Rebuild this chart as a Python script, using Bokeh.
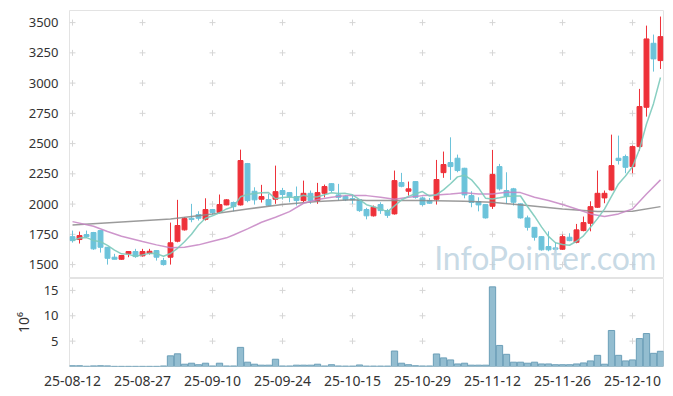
import itertools
import pandas as pd
from bokeh.plotting import figure
from bokeh.layouts import column
from bokeh.models import ColumnDataSource, Range1d, FixedTicker, Label
from bokeh.embed import file_html
from bokeh.resources import INLINE

# ---- data ----
tick_pos = [0, 10, 20, 30, 40, 50, 60, 70, 80]
tick_labels = ["25-08-12", "25-08-27", "25-09-10", "25-09-24", "25-10-15",
               "25-10-29", "25-11-12", "25-11-26", "25-12-10"]
price_ticks = [1500, 1750, 2000, 2250, 2500, 2750, 3000, 3250, 3500]
vol_ticks = [5, 10, 15]

opens = [1731, 1707, 1748, 1765, 1781, 1643, 1561, 1544, 1589, 1608,
         1572, 1593, 1616, 1533, 1561, 1693, 1787, 1883, 1913, 1874,
         1955, 1932, 1993, 2013, 1993, 2335, 2106, 2040, 2037, 2040,
         2112, 2095, 2062, 2029, 2089, 2029, 2089, 2169, 2076, 2062,
         2045, 2035, 1955, 1903, 1996, 1946, 1919, 2178, 2106, 2186,
         2051, 2029, 2040, 2260, 2343, 2379, 2296, 2070, 2021, 1996,
         1982, 2310, 2112, 2126, 2002, 1886, 1808, 1731, 1649, 1638,
         1627, 1726, 1684, 1781, 1841, 1974, 2051, 2117, 2379, 2393,
         2310, 2475, 2800, 3329, 3186]
highs = [1781, 1773, 1781, 1770, 1785, 1645, 1589, 1578, 1610, 1630,
         1630, 1630, 1620, 1556, 1847, 2035, 1891, 2002, 1941, 2048,
         1960, 2079, 2040, 2021, 2450, 2340, 2139, 2159, 2084, 2318,
         2134, 2100, 2145, 2194, 2112, 2175, 2161, 2172, 2167, 2070,
         2079, 2040, 1969, 1988, 2015, 1960, 2277, 2258, 2186, 2190,
         2062, 2051, 2365, 2434, 2552, 2409, 2300, 2106, 2056, 2000,
         2448, 2332, 2263, 2134, 2005, 1905, 1810, 1735, 1775, 1684,
         1748, 1759, 1836, 1897, 2023, 2277, 2112, 2574, 2566, 2409,
         2484, 2952, 3475, 3401, 3550]
lows = [1682, 1674, 1721, 1622, 1599, 1500, 1544, 1540, 1561, 1556,
        1566, 1583, 1533, 1492, 1500, 1684, 1781, 1850, 1864, 1864,
        1913, 1924, 1990, 1940, 1988, 2015, 1996, 2013, 1985, 2002,
        2037, 2015, 1988, 2015, 2002, 2002, 2056, 2098, 2029, 2025,
        2002, 1936, 1874, 1897, 1919, 1886, 1913, 2139, 2070, 2045,
        1985, 2002, 1996, 2217, 2200, 2263, 2048, 1974, 1940, 1880,
        1960, 2112, 2002, 1988, 1880, 1781, 1698, 1615, 1610, 1616,
        1622, 1693, 1676, 1775, 1775, 1969, 2007, 2112, 2327, 2255,
        2255, 2440, 2723, 3095, 3117]
closes = [1698, 1740, 1731, 1630, 1643, 1552, 1544, 1575, 1608, 1566,
          1608, 1610, 1561, 1500, 1680, 1823, 1880, 1872, 1883, 1955,
          1930, 1996, 2035, 1979, 2360, 2029, 2035, 2062, 1990, 2103,
          2079, 2062, 2029, 2089, 2029, 2095, 2145, 2112, 2056, 2035,
          2035, 1946, 1903, 1974, 1946, 1907, 2194, 2147, 2126, 2056,
          1996, 2007, 2203, 2327, 2310, 2277, 2076, 2013, 1993, 1886,
          2244, 2126, 2064, 2015, 1886, 1808, 1726, 1622, 1622, 1627,
          1731, 1698, 1787, 1847, 1979, 2089, 2089, 2318, 2360, 2304,
          2475, 2806, 3365, 3200, 3384]
volumes = [0.15, 0.15, 0.05, 0.12, 0.15, 0.12, 0.03, 0.03, 0.03, 0.03,
           0.03, 0.03, 0.03, 0.1, 2.1, 2.5, 0.45, 0.65, 0.35, 0.65,
           0.1, 0.65, 0.1, 0.1, 3.77, 0.85, 0.45, 0.26, 0.26, 1.43,
           0.1, 0.1, 0.26, 0.26, 0.26, 0.45, 0.1, 0.35, 0.1, 0.08,
           0.08, 0.3, 0.08, 0.08, 0.08, 0.08, 3.05, 0.65, 0.35, 0.15,
           0.1, 0.1, 2.47, 1.7, 1.3, 0.5, 0.65, 0.26, 0.26, 0.26,
           15.7, 4.15, 2.4, 0.85, 0.85, 0.65, 0.85, 0.5, 0.5, 0.35,
           0.35, 0.35, 0.5, 0.7, 1.1, 2.2, 0.45, 7.1, 2.2, 1.1,
           1.3, 5.5, 6.5, 2.6, 3.0]

# moving-average lines (20-day and 60-day)
ma20_idx = [0, 3, 5, 7, 10, 12, 14, 16, 18, 20, 22, 23, 25, 27, 29, 31, 33, 35,
            37, 39, 41, 42, 44, 46, 48, 50, 52, 54, 56, 58, 60, 62, 64, 66, 68,
            70, 72, 74, 76, 78, 80, 82, 84]
ma20_val = [1855, 1817, 1773, 1734, 1690, 1663, 1640, 1643, 1663, 1693, 1721,
            1745, 1795, 1850, 1891, 1938, 2007, 2037, 2056, 2070, 2070, 2070,
            2056, 2040, 2056, 2070, 2076, 2084, 2093, 2084, 2084, 2098, 2095,
            2056, 2029, 1996, 1960, 1919, 1897, 1919, 1960, 2084, 2200]
ma60_idx = [0, 14, 20, 25, 30, 35, 40, 42, 50, 56, 60, 65, 70, 75, 80, 84]
ma60_val = [1828, 1877, 1919, 1960, 1996, 2021, 2035, 2029, 2029, 2023, 2015,
            1988, 1960, 1938, 1940, 1979]

# ---- styling ----
UP = "#ee3139"
DOWN = "#6cc3da"
FONT = "Noto Sans"
TXT = "#333333"
GRID = "#d6d6d6"
OUTLINE = "#e3e3e3"

n = len(opens)
idx = list(range(n))
df = pd.DataFrame({"x": idx, "open": opens, "high": highs, "low": lows,
                   "close": closes, "vol": volumes})
df["top"] = df[["open", "close"]].max(axis=1)
df["bottom"] = df[["open", "close"]].min(axis=1)
df["color"] = [UP if c >= o else DOWN for o, c in zip(opens, closes)]
df["ma5"] = df["close"].rolling(5, min_periods=1).mean()
src = ColumnDataSource(df)

x_range = Range1d(-0.43, n - 1 + 0.43)

p = figure(width=665, height=278, x_range=x_range, y_range=Range1d(1385, 3600),
           output_backend="svg", toolbar_location=None,
           min_border_left=69, min_border_right=2, min_border_top=10,
           min_border_bottom=0)
p.xaxis.visible = False
p.grid.visible = False
p.outline_line_color = OUTLINE
p.yaxis.ticker = FixedTicker(ticks=price_ticks)
for ax in [p.yaxis]:
    ax.axis_line_color = None
    ax.major_tick_line_color = None
    ax.minor_tick_line_color = None
    ax.major_label_text_font = FONT
    ax.major_label_text_font_size = "13px"
    ax.major_label_text_color = TXT
    ax.major_label_standoff = 5

gx, gy = zip(*itertools.product(tick_pos, price_ticks))
p.scatter(list(gx), list(gy), marker="cross", size=6, line_color=GRID, line_width=1)

wm = Label(x=83.4, y=1560, text="InfoPointer.com", text_font="Lato",
           text_font_size="32px", text_color="#b9d0de", text_alpha=0.8,
           text_align="right", text_baseline="alphabetic")
p.add_layout(wm)

p.segment(x0="x", y0="low", x1="x", y1="high", line_color="color", line_width=1, source=src)
p.vbar(x="x", width=0.7, top="top", bottom="bottom", fill_color="color",
       line_color="color", line_width=1, source=src)

p.line(ma60_idx, ma60_val, line_color="#8a8a8a", line_width=1.5, line_alpha=0.85)
p.line(ma20_idx, ma20_val, line_color="#c584c3", line_width=1.5, line_alpha=0.85)
p.line("x", "ma5", line_color="#7ccabb", line_width=1.5, line_alpha=0.9, source=src)

v = figure(width=665, height=110, x_range=x_range, y_range=Range1d(0, 17.35),
           output_backend="svg", toolbar_location=None,
           min_border_left=69, min_border_right=2, min_border_top=0,
           min_border_bottom=21)
v.grid.visible = False
v.outline_line_color = OUTLINE
vx, vy = zip(*itertools.product(tick_pos, vol_ticks))
v.scatter(list(vx), list(vy), marker="cross", size=6, line_color=GRID, line_width=1)
v.vbar(x="x", width=0.9, top="vol", bottom=0, fill_color="#93bdd0",
       line_color="#6c9fb8", line_width=1, source=src)

v.yaxis.ticker = FixedTicker(ticks=vol_ticks)
v.yaxis.axis_label = "10\u2076"
v.yaxis.axis_label_text_font = FONT
v.yaxis.axis_label_text_font_size = "14px"
v.yaxis.axis_label_text_font_style = "normal"
v.yaxis.axis_label_text_color = TXT
v.yaxis.axis_label_standoff = 8
v.xaxis.ticker = FixedTicker(ticks=tick_pos)
v.xaxis.major_label_overrides = {pos: lab for pos, lab in zip(tick_pos, tick_labels)}
for ax in [v.yaxis, v.xaxis]:
    ax.axis_line_color = None
    ax.major_tick_line_color = None
    ax.minor_tick_line_color = None
    ax.major_label_text_font = FONT
    ax.major_label_text_color = TXT
v.yaxis.major_label_text_font_size = "13px"
v.xaxis.major_label_text_font_size = "14px"
v.yaxis.major_label_standoff = 5
v.xaxis.major_label_standoff = 3

layout = column(p, v, spacing=0)
open("out.html", "w").write(file_html(layout, INLINE))
